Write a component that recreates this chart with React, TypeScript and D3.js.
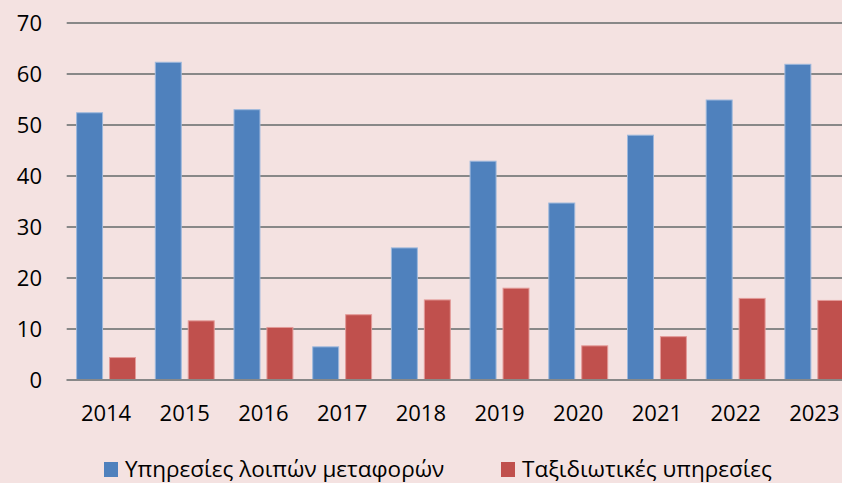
import React, { useEffect, useRef } from "react";
import * as d3 from "d3";

const years = ["2014", "2015", "2016", "2017", "2018", "2019", "2020", "2021", "2022", "2023"];
const otherTransport = [52.4, 62.3, 53.0, 6.5, 25.9, 42.9, 34.7, 48.0, 54.9, 61.9];
const travelServices = [4.4, 11.6, 10.3, 12.8, 15.7, 18.0, 6.7, 8.5, 16.0, 15.6];
const seriesNames = ["Υπηρεσίες λοιπών μεταφορών", "Ταξιδιωτικές υπηρεσίες"];
const yTicks = [0, 10, 20, 30, 40, 50, 60, 70];

const App = () => {
    const ref = useRef(null);

    useEffect(() => {
        const width = 842, height = 483;
        const root = d3.select(ref.current);
        root.selectAll("*").remove();

        const svg = root.append("svg")
            .attr("width", width)
            .attr("height", height)
            .style("display", "block")
            .style("font-family", "'Open Sans', 'Noto Sans', sans-serif");

        svg.append("rect")
            .attr("width", width)
            .attr("height", height)
            .attr("fill", "#f4e2e1");

        // plot area runs past the right edge, like the source picture
        const x = d3.scaleBand().domain(years).range([66.7, 853.7]);
        const xInner = d3.scaleBand().domain(seriesNames).range([9.9, 68.8]).paddingInner(0.212);
        const y = d3.scaleLinear().domain([0, 70]).range([380, 23]);

        const colors = ["#4f81bd", "#c0504d"];
        const strokes = ["#9db8dc", "#e39a98"];

        // gridlines
        svg.append("g")
            .selectAll("line")
            .data(yTicks)
            .enter().append("line")
            .attr("x1", 66.7)
            .attr("x2", width)
            .attr("y1", d => y(d))
            .attr("y2", d => y(d))
            .attr("stroke", "#888888")
            .attr("stroke-width", 2);

        // y labels
        svg.append("g")
            .selectAll("text")
            .data(yTicks)
            .enter().append("text")
            .attr("x", 42)
            .attr("y", d => y(d))
            .attr("dy", "0.36em")
            .attr("text-anchor", "end")
            .attr("font-size", 22)
            .attr("fill", "#000")
            .text(d => d);

        const series = [otherTransport, travelServices];
        series.forEach((vals, si) => {
            svg.append("g")
                .selectAll("rect")
                .data(vals)
                .enter().append("rect")
                .attr("x", (d, i) => x(years[i]) + xInner(seriesNames[si]))
                .attr("y", d => y(d))
                .attr("width", xInner.bandwidth())
                .attr("height", d => y(0) - y(d))
                .attr("fill", colors[si])
                .attr("stroke", strokes[si])
                .attr("stroke-width", 1);
        });

        // redraw baseline over bars
        svg.append("line")
            .attr("x1", 66.7)
            .attr("x2", width)
            .attr("y1", y(0))
            .attr("y2", y(0))
            .attr("stroke", "#888888")
            .attr("stroke-width", 2);

        // x labels
        svg.append("g")
            .selectAll("text")
            .data(years)
            .enter().append("text")
            .attr("x", d => x(d) + x.bandwidth() / 2)
            .attr("y", 421)
            .attr("text-anchor", "middle")
            .attr("font-size", 22)
            .attr("fill", "#000")
            .text(d => d);

        // legend
        const legendX = [104, 501];
        seriesNames.forEach((name, i) => {
            const g = svg.append("g").attr("transform", `translate(${legendX[i]},462)`);
            g.append("rect")
                .attr("width", 14)
                .attr("height", 15)
                .attr("fill", colors[i]);
            g.append("text")
                .attr("x", 21)
                .attr("y", 15)
                .attr("font-size", 22.5)
                .attr("fill", "#000")
                .text(name);
        });
    }, []);

    return <div ref={ref} style={{ position: "fixed", left: 0, top: 0 }} />;
};

export default App;
